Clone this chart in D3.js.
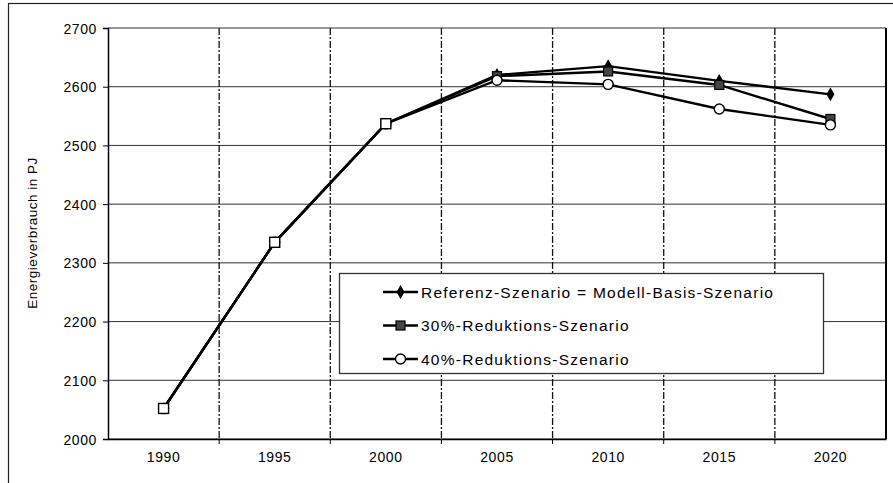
<!DOCTYPE html>
<html>
<head>
<meta charset="utf-8">
<script src="https://cdn.jsdelivr.net/npm/d3@7"></script>
<style>
  body { margin: 0; background: #fff; }
  text { font-family: "Liberation Sans", Arial, sans-serif; fill: #000; }
</style>
</head>
<body>
<div id="chart"></div>
<script>
var years = ["1990", "1995", "2000", "2005", "2010", "2015", "2020"];
var referenz = [2052, 2335, 2537, 2620, 2635, 2610, 2587];
var red30 = [2052, 2335, 2537, 2618, 2626, 2603, 2545];
var red40 = [2052, 2335, 2537, 2611, 2604, 2562, 2535];
var yTicks = [2000, 2100, 2200, 2300, 2400, 2500, 2600, 2700];
var seriesNames = ["Referenz-Szenario = Modell-Basis-Szenario", "30%-Reduktions-Szenario", "40%-Reduktions-Szenario"];

const width = 893, height = 483;
const margin = {left: 108, right: 7, top: 28, bottom: 44};

const svg = d3.select("#chart").append("svg")
    .attr("width", width)
    .attr("height", height);

// outer frame
svg.append("rect")
    .attr("x", 8.5).attr("y", 3.5)
    .attr("width", 1000).attr("height", 1000)
    .attr("fill", "none").attr("stroke", "#222").attr("stroke-width", 1.2);

const x = d3.scaleBand()
    .domain(years)
    .range([margin.left, width - margin.right]);

const y = d3.scaleLinear()
    .domain([2000, 2700])
    .range([height - margin.bottom, margin.top]);

// horizontal grid
svg.append("g").selectAll("line")
    .data(yTicks)
    .enter().append("line")
    .attr("x1", margin.left).attr("x2", width - margin.right)
    .attr("y1", function(d) { return y(d); })
    .attr("y2", function(d) { return y(d); })
    .attr("stroke", "#333").attr("stroke-width", 1);

// vertical grid at category boundaries
svg.append("g").selectAll("line")
    .data(years.slice(1))
    .enter().append("line")
    .attr("x1", function(d) { return x(d); })
    .attr("x2", function(d) { return x(d); })
    .attr("y1", margin.top).attr("y2", height - margin.bottom)
    .attr("stroke", "#111").attr("stroke-width", 1.3)
    .attr("stroke-dasharray", "7,2,2,2");

// right border of plot
svg.append("line")
    .attr("x1", width - margin.right).attr("x2", width - margin.right)
    .attr("y1", margin.top).attr("y2", height - margin.bottom)
    .attr("stroke", "#000").attr("stroke-width", 2);

// axes
const yAxis = svg.append("g")
    .attr("transform", "translate(" + margin.left + ",0)")
    .call(d3.axisLeft(y).tickValues(yTicks).tickSize(5).tickPadding(6).tickFormat(d3.format("d")));
yAxis.select(".domain").attr("stroke-width", 1.5);
yAxis.selectAll("text").style("font-size", "14px").style("letter-spacing", "0.6px").attr("dy", "0.36em");

const xAxis = svg.append("g")
    .attr("transform", "translate(0," + (height - margin.bottom) + ")")
    .call(d3.axisBottom(x).tickSize(0).tickPadding(13));
xAxis.select(".domain").attr("stroke-width", 1.5);
xAxis.selectAll("text").style("font-size", "14px").style("letter-spacing", "0.6px");

// category ticks on x axis
svg.append("g").selectAll("line")
    .data(years.slice(1))
    .enter().append("line")
    .attr("x1", function(d) { return x(d); })
    .attr("x2", function(d) { return x(d); })
    .attr("y1", height - margin.bottom).attr("y2", height - margin.bottom + 5)
    .attr("stroke", "#000");

svg.append("text")
    .attr("transform", "translate(37," + 233 + ") rotate(-90)")
    .attr("text-anchor", "middle")
    .style("font-size", "13.5px")
    .style("letter-spacing", "0.5px")
    .text("Energieverbrauch in PJ");

const cx = function(d, i) { return x(years[i]) + x.bandwidth() / 2; };
const line = d3.line().x(cx).y(function(d) { return y(d); });

var all = [red40, red30, referenz];
all.forEach(function(s) {
    svg.append("path")
        .datum(s)
        .attr("d", line)
        .attr("fill", "none")
        .attr("stroke", "#000")
        .attr("stroke-width", 2.4);
});

function marker(g, type, px, py) {
    if (type === 0) {
        g.append("path")
            .attr("d", d3.symbol(d3.symbolDiamond, 55)())
            .attr("transform", "translate(" + px + "," + py + ")")
            .attr("fill", "#000");
    } else if (type === 1) {
        g.append("rect")
            .attr("x", px - 4.5).attr("y", py - 4.5)
            .attr("width", 9).attr("height", 9)
            .attr("fill", "#444").attr("stroke", "#000").attr("stroke-width", 1.2);
    } else {
        g.append("circle")
            .attr("cx", px).attr("cy", py).attr("r", 5)
            .attr("fill", "#fff").attr("stroke", "#000").attr("stroke-width", 1.4);
    }
}

var markers = svg.append("g");
[referenz, red30, red40].forEach(function(s, k) {
    s.forEach(function(v, i) {
        if (i < 3 && k < 2) return;
        marker(markers, k, cx(v, i), y(v));
    });
});
// early points drawn with open square like the original
[0, 1, 2].forEach(function(i) {
    markers.append("rect")
        .attr("x", cx(0, i) - 5).attr("y", y(red40[i]) - 5)
        .attr("width", 10).attr("height", 10)
        .attr("fill", "#fff").attr("stroke", "#000").attr("stroke-width", 1.4);
});

// legend
const legend = svg.append("g");
legend.append("rect")
    .attr("x", 339.5).attr("y", 273.5)
    .attr("width", 484).attr("height", 100)
    .attr("fill", "#fff").attr("stroke", "#333").attr("stroke-width", 1.3);

seriesNames.forEach(function(name, k) {
    const ly = 292 + k * 33.5;
    legend.append("line")
        .attr("x1", 383).attr("x2", 418)
        .attr("y1", ly).attr("y2", ly)
        .attr("stroke", "#000").attr("stroke-width", 2.4);
    marker(legend, k, 400.5, ly);
    legend.append("text")
        .attr("x", 421).attr("y", ly + 5.5)
        .style("font-size", "15.5px")
        .style("letter-spacing", "1.25px")
        .text(name);
});
</script>
</body>
</html>
